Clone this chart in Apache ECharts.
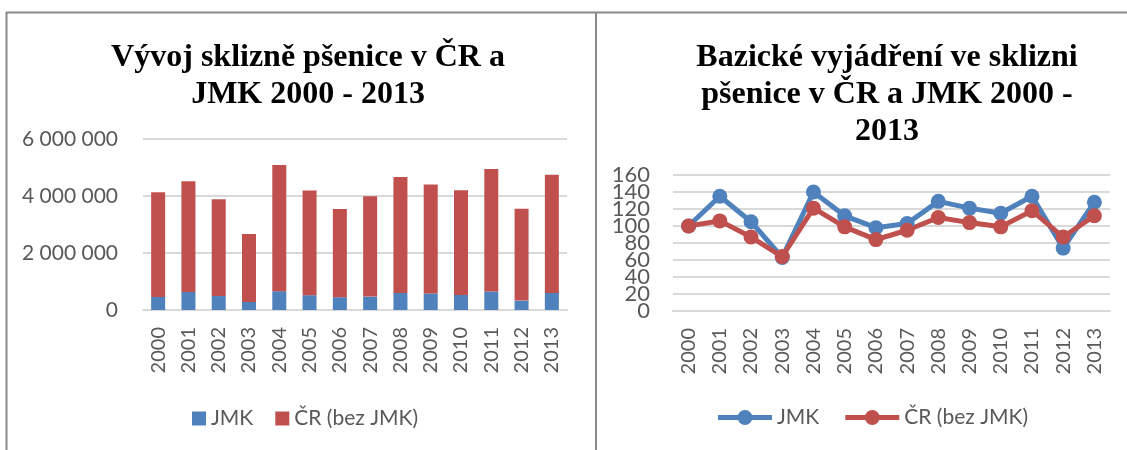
<!DOCTYPE html>
<html>
<head>
<meta charset="utf-8">
<title>Sklizeň pšenice</title>
<script src="https://cdn.jsdelivr.net/npm/echarts@6/dist/echarts.min.js"></script>
<style>
  html, body { margin: 0; padding: 0; background: #fff; }
  #chart { width: 1127px; height: 450px; }
</style>
</head>
<body>
<div id="chart"></div>
<script>
// data
var years = ['2000', '2001', '2002', '2003', '2004', '2005', '2006', '2007', '2008', '2009', '2010', '2011', '2012', '2013'];
// harvest in tonnes
var jmk = [460000, 635000, 490000, 280000, 660000, 520000, 450000, 470000, 600000, 580000, 530000, 650000, 330000, 600000];
var crBezJmk = [3670000, 3885000, 3400000, 2390000, 4430000, 3670000, 3090000, 3520000, 4070000, 3820000, 3670000, 4300000, 3220000, 4150000];
// base index (2000 = 100)
var jmkIndex = [100, 135, 105, 63, 140, 112, 98, 103, 129, 121, 115, 135, 74, 128];
var crIndex = [100, 106, 87, 64, 121, 99, 84, 95, 110, 104, 99, 118, 87, 112];

var seriesNames = ['JMK', 'ČR (bez JMK)'];
var blue = '#4F81BD';
var red = '#C0504D';
var labelFont = 'Lato';
var gridColor = '#D9D9D9';
var frameColor = '#8a8a8a';
// legend icon for the line chart: line with a dot in the middle
var lineDot = 'path://M0,5.5H54V10.5H0Z M34.5,8A7.5,7.5 0 1 1 19.5,8A7.5,7.5 0 1 1 34.5,8Z';

var chart = echarts.init(document.getElementById('chart'));

function spaced(v) {
  return String(v).replace(/\B(?=(\d{3})+(?!\d))/g, ' ');
}

var titleStyle = {
  fontFamily: 'Liberation Serif',
  fontWeight: 'bold',
  fontSize: 32,
  lineHeight: 37,
  color: '#000'
};

var xLabel = {
  rotate: 90,
  margin: 17,
  color: '#595959',
  fontFamily: labelFont,
  fontSize: 20
};

// the index axis labels sit closer than their font size, echarts would drop
// every other one, so they are split over two axes sharing the same scale
function indexAxis(odd, showGrid) {
  return {
    type: 'value', gridIndex: 1, position: 'left', min: 0, max: 160, interval: 20,
    axisLine: { show: false }, axisTick: { show: false },
    splitLine: { show: showGrid, lineStyle: { color: gridColor, width: 2 } },
    axisLabel: {
      color: '#595959', fontFamily: labelFont, fontSize: 22, margin: 23,
      showMinLabel: true, showMaxLabel: true,
      formatter: function (v) { return ((v / 20) % 2 === 1) === odd ? String(v) : ''; }
    }
  };
}

chart.setOption({
  animation: false,
  title: [
    {
      text: 'Vývoj sklizně pšenice v ČR a\nJMK 2000 - 2013',
      left: 308, top: 39, textAlign: 'center', padding: 0,
      textStyle: titleStyle
    },
    {
      text: 'Bazické vyjádření ve sklizni\npšenice v ČR a JMK 2000 -\n2013',
      left: 887, top: 39, textAlign: 'center', padding: 0,
      textStyle: titleStyle
    }
  ],
  legend: [
    {
      data: seriesNames,
      left: 192, top: 408, padding: 0,
      icon: 'rect',
      itemWidth: 14, itemHeight: 14, itemGap: 22,
      textStyle: { color: '#595959', fontFamily: labelFont, fontSize: 21 }
    },
    {
      data: [
        { name: 'JMK', icon: lineDot, itemStyle: { color: blue } },
        { name: 'ČR (bez JMK)', icon: lineDot, itemStyle: { color: red } }
      ],
      left: 718, top: 407, padding: 0,
      itemWidth: 54, itemHeight: 15, itemGap: 26,
      textStyle: { color: '#595959', fontFamily: labelFont, fontSize: 21 }
    }
  ],
  grid: [
    { left: 143, right: 560, top: 139, bottom: 140 },
    { left: 673, right: 17, top: 175, bottom: 139 }
  ],
  xAxis: [
    {
      type: 'category', gridIndex: 0, data: years,
      axisTick: { show: false },
      axisLine: { lineStyle: { color: gridColor, width: 2 } },
      axisLabel: xLabel
    },
    {
      type: 'category', gridIndex: 1, data: years,
      axisTick: { show: false },
      axisLine: { lineStyle: { color: gridColor, width: 2 } },
      axisLabel: xLabel
    }
  ],
  yAxis: [
    {
      type: 'value', gridIndex: 0, min: 0, max: 6000000, interval: 2000000,
      axisLine: { show: false }, axisTick: { show: false },
      splitLine: { lineStyle: { color: gridColor, width: 2 } },
      axisLabel: { color: '#595959', fontFamily: labelFont, fontSize: 21, margin: 25, formatter: spaced }
    },
    indexAxis(false, true),
    indexAxis(true, false)
  ],
  series: [
    {
      name: 'JMK', type: 'bar', stack: 'sklizen', xAxisIndex: 0, yAxisIndex: 0,
      barWidth: 14, itemStyle: { color: blue }, data: jmk
    },
    {
      name: 'ČR (bez JMK)', type: 'bar', stack: 'sklizen', xAxisIndex: 0, yAxisIndex: 0,
      barWidth: 14, itemStyle: { color: red }, data: crBezJmk
    },
    {
      name: 'JMK', type: 'line', xAxisIndex: 1, yAxisIndex: 1,
      symbol: 'circle', symbolSize: 15,
      lineStyle: { color: blue, width: 5 }, itemStyle: { color: blue },
      data: jmkIndex
    },
    {
      name: 'ČR (bez JMK)', type: 'line', xAxisIndex: 1, yAxisIndex: 1,
      symbol: 'circle', symbolSize: 15,
      lineStyle: { color: red, width: 5 }, itemStyle: { color: red },
      data: crIndex
    }
  ],
  graphic: [
    { type: 'line', shape: { x1: 6, y1: 12.5, x2: 1127, y2: 12.5 }, style: { stroke: frameColor, lineWidth: 2 } },
    { type: 'line', shape: { x1: 6.5, y1: 12, x2: 6.5, y2: 450 }, style: { stroke: frameColor, lineWidth: 2 } },
    { type: 'line', shape: { x1: 596, y1: 12, x2: 596, y2: 450 }, style: { stroke: frameColor, lineWidth: 2 } }
  ]
});
</script>
</body>
</html>
